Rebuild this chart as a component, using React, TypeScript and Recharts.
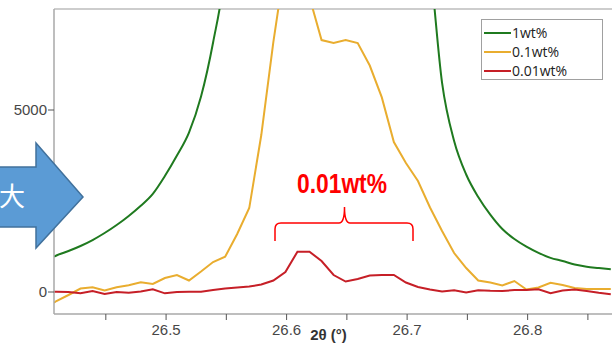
import { LineChart, Line, XAxis, YAxis, ReferenceLine } from "recharts";

// 2θ positions (deg) and intensities
const twoTheta = [
  26.407, 26.409, 26.419, 26.429, 26.439, 26.449, 26.459, 26.469, 26.479, 26.489, 26.499, 26.509,
  26.519, 26.529, 26.539, 26.549, 26.559, 26.569, 26.579, 26.589, 26.599, 26.609, 26.619, 26.629,
  26.639, 26.649, 26.659, 26.669, 26.679, 26.689, 26.699, 26.709, 26.719, 26.729, 26.739, 26.749,
  26.759, 26.769, 26.779, 26.789, 26.799, 26.809, 26.819, 26.829, 26.839, 26.849, 26.859, 26.869,
];

const wt1 = [
  970, 1003, 1126, 1264, 1428, 1621, 1840, 2090, 2370, 2698, 3187, 3750,
  4382, 5370, 6854, 8862, 13000, 20000, 31000, 47000, 66000, 84000, 96000, 100000,
  96000, 84000, 66000, 48000, 33000, 22000, 15000, 11000, 8991, 5747, 4148, 3228,
  2610, 2126, 1731, 1456, 1247, 1077, 937, 852, 755, 695, 659, 624,
];

const wt01 = [
  -294, -247, -82, 96, 129, 41, 129, 184, 266, 220, 385, 467,
  316, 563, 824, 968, 1593, 2307, 4313, 6867, 9082, 9800, 8097, 6922,
  6840, 6922, 6840, 6222, 5346, 4121, 3544, 3049, 2321, 1676, 1071, 659,
  316, 261, 179, 302, 69, 124, 255, 192, 110, 82, 82, 82,
];

const wt001 = [
  8, 8, 0, -36, 27, -55, 0, -19, 14, 74, -36, 0,
  8, 8, 55, 96, 124, 151, 206, 316, 549, 1107, 1107, 852,
  467, 288, 357, 453, 467, 467, 261, 137, 69, 14, 49, -14,
  49, 33, 27, 55, 55, 74, -33, 41, 69, 27, -22, -63,
];

const xTicks = [26.45, 26.5, 26.55, 26.6, 26.65, 26.7, 26.75, 26.8, 26.85];
const yTicks = [0, 5000];

const series = [
  { key: "wt1", name: "1wt%", color: "#1f7a1f", curve: "monotone" },
  { key: "wt01", name: "0.1wt%", color: "#e9ad2f", curve: "linear" },
  { key: "wt001", name: "0.01wt%", color: "#c61f27", curve: "linear" },
] as const;

const X_MIN = 26.407;
const X_MAX = 26.87;
const Y_MIN = -604;
const Y_MAX = 7775;

const data = twoTheta.map((x, i) => ({ x, wt1: wt1[i], wt01: wt01[i], wt001: wt001[i] }));

const AXIS = "#a9a9a9";
const tickStyle = { fill: "#474747", fontSize: 15, fontFamily: "Liberation Sans, Arial, sans-serif" };

const fmtX = (v: number) => (Math.abs(v * 10 - Math.round(v * 10)) < 1e-6 ? v.toFixed(1) : "");

export default function App() {
  return (
    <div style={{ position: "absolute", left: 0, top: 0, width: 612, height: 345, background: "#fff", overflow: "hidden" }}>
      <LineChart width={612} height={345} data={data} margin={{ top: 9, right: 0, left: 0, bottom: 0 }}>
        <XAxis
          dataKey="x"
          type="number"
          domain={[X_MIN, X_MAX]}
          allowDataOverflow
          ticks={xTicks}
          tickFormatter={fmtX}
          height={31}
          tickSize={6}
          tickMargin={4}
          tick={tickStyle}
          axisLine={{ stroke: AXIS, strokeWidth: 1.5 }}
          tickLine={{ stroke: "#555" }}
        />
        <YAxis
          type="number"
          domain={[Y_MIN, Y_MAX]}
          allowDataOverflow
          ticks={yTicks}
          width={54}
          tickSize={6}
          tickMargin={1}
          tick={tickStyle}
          axisLine={{ stroke: AXIS, strokeWidth: 1.5 }}
          tickLine={{ stroke: "#555" }}
        />
        <ReferenceLine y={Y_MAX} stroke="#bdbdbd" strokeWidth={1.5} ifOverflow="visible" />
        {series.map((s) => (
          <Line
            key={s.key}
            type={s.curve}
            dataKey={s.key}
            name={s.name}
            stroke={s.color}
            strokeWidth={2}
            dot={false}
            isAnimationActive={false}
          />
        ))}
      </LineChart>

      {/* legend */}
      <div
        style={{
          position: "absolute",
          left: 481,
          top: 19,
          width: 120,
          height: 59,
          border: "1px solid #a0a0a0",
          background: "#fff",
          fontFamily: "Open Sans, Noto Sans, sans-serif",
          fontSize: 14,
          color: "#222",
          boxSizing: "content-box",
        }}
      >
        {series.map((s, i) => (
          <div key={s.key} style={{ position: "absolute", left: 2, top: 4 + i * 19, height: 18, display: "flex", alignItems: "center" }}>
            <span style={{ display: "inline-block", width: 27, height: 2, background: s.color }} />
            <span style={{ marginLeft: 1, lineHeight: "18px" }}>{s.name}</span>
          </div>
        ))}
      </div>

      {/* annotations */}
      <svg width={612} height={345} style={{ position: "absolute", left: 0, top: 0, pointerEvents: "none" }}>
        <polygon
          points="-2,167 36,167 36,143 83,197 36,248 36,227 -2,227"
          fill="#5b9bd5"
          stroke="#41719c"
          strokeWidth={1.5}
        />
        <text x={12} y={206} textAnchor="middle" fill="#fff" fontSize={26} fontFamily="Noto Sans CJK JP, sans-serif">
          大
        </text>
        <text
          x={342}
          y={193}
          textAnchor="middle"
          fill="#ff0000"
          fontSize={28}
          fontWeight="bold"
          fontFamily="Liberation Sans, Arial, sans-serif"
          textLength={90}
          lengthAdjust="spacingAndGlyphs"
        >
          0.01wt%
        </text>
        <path
          d="M275,241 L275,229 Q275,223 281,223 L339,223 Q344.5,223 344.5,207 Q344.5,223 350,223 L407,223 Q413,223 413,229 L413,241"
          fill="none"
          stroke="#ff0000"
          strokeWidth={1.5}
        />
        <text
          x={328.5}
          y={340}
          textAnchor="middle"
          fill="#333"
          fontSize={15}
          fontWeight="bold"
          fontFamily="Liberation Sans, Arial, sans-serif"
        >
          2θ (°)
        </text>
      </svg>
    </div>
  );
}
